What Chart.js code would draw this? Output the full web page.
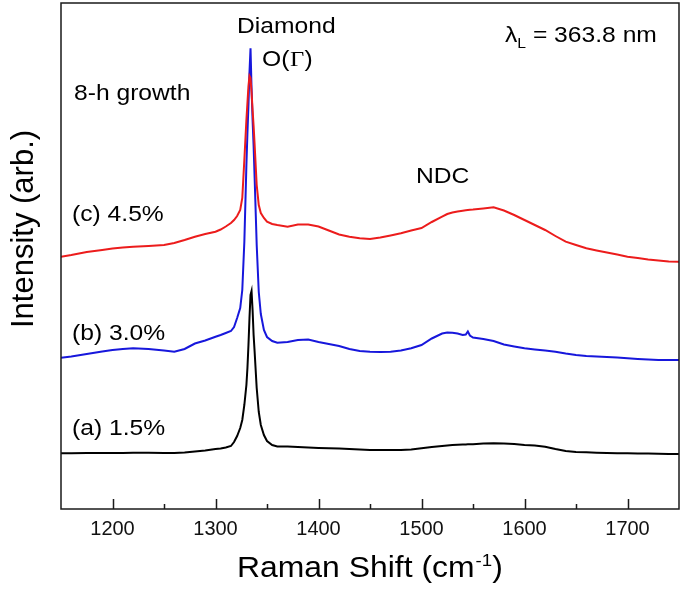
<!DOCTYPE html>
<html><head><meta charset="utf-8">
<script src="https://cdn.jsdelivr.net/npm/chart.js@4/dist/chart.umd.min.js"></script>
<style>html,body{margin:0;padding:0;background:#fff}#wrap{width:685px;height:590px}</style>
</head><body><div id="wrap"><canvas id="c" width="685" height="590"></canvas></div>
<script>
// Raman shift (cm^-1)
const ramanShift = [1150,1160,1175,1190,1200,1210,1220,1235,1250,1260,
  1270,1280,1290,1300,1305,1310,1315,1318,1321,1324,
  1326,1328,1330,1331,1332,1333,1334,1335,1336,1337,
  1338,1340,1342,1344,1347,1350,1355,1360,1370,1380,
  1390,1400,1410,1420,1430,1440,1450,1460,1470,1480,
  1490,1500,1510,1520,1525,1530,1535,1540,1543,1545,
  1547,1550,1560,1570,1580,1590,1600,1610,1620,1630,
  1640,1650,1660,1670,1680,1690,1700,1710,1720,1730,
  1740,1750];
// (a) 1.5%  (offset intensity, arb.)
const intensityA = [55.7,55.7,56,56,56,56,56.2,56.2,56,56,
  56.5,57.5,58.5,60,60.5,61.5,63,67,73,81,
  89,104,124,141,164,191,214,218,199,174,
  157,121,97,84,74,68,64,62.5,62.5,62,
  61.5,61,60.7,60.5,60,59.5,59,59,59,59,
  59.5,60.7,62,63,63.5,64,64.2,64.5,64.5,64.7,
  64.7,64.7,65.5,65.7,65.5,65,64,63.5,62.3,60,
  58,57,56.7,56.3,56,55.8,55.7,55.5,55.5,55.2,
  55,55];
// (b) 3.0%
const intensityB = [151.3,152.5,155,157.5,159,160,160.7,160,158.5,157.3,
  160,165.5,168.5,172.3,174,176,178,182,191,201,
  219,267,344,376,404,437,460.7,421,389,363,
  331,264,217,195,179,172,168,166.3,167,169,
  169.5,167,165,163,160,158,157.3,157,157.3,158.5,
  160.7,164,170.5,175.5,176.5,176.3,175.5,174,174.5,177.5,
  173.5,171.5,170,168,164.5,162.5,160.7,159.5,158.5,157.3,
  155.5,154,153,152.5,152,151.5,150.7,150,149.5,149,
  149,149];
// (c) 4.5%
const intensityC = [252.3,254,257,259,260.5,261.5,262.3,263,264,266,
  269,272.3,275,277.3,279.5,282.5,286,289,293,299,
  311,349,389,406,423,433,431,417,399,383,
  364,324,304,296,291,287.3,285,284,282.3,284.5,
  284.5,282.5,278.5,274.5,272.3,270.7,270,271.5,273.5,275.7,
  278.5,281,287,292.3,295,296.5,297.5,298.3,298.7,299,
  299.3,299.5,300.5,301.7,298.5,294,289,284,279,273,
  267.3,264,260.7,258.5,256.5,254.5,252.3,251,249.5,248.5,
  247.5,247.3];

const seriesLabels = ['(a) 1.5%', '(b) 3.0%', '(c) 4.5%'];
const xTickValues = [1200, 1300, 1400, 1500, 1600, 1700];
const xMinorTickValues = [1250, 1350, 1450, 1550, 1650];
const xRange = [1150, 1750];
const yRange = [0, 506];

const FONT = '"Liberation Sans", Arial, sans-serif';

function toPoints(arr) { return ramanShift.map((x, i) => ({ x: x, y: arr[i] })); }

function stretchText(ctx, txt, x, y, size, sx) {
  ctx.save();
  ctx.translate(x, y);
  ctx.scale(sx, 1);
  ctx.font = size + 'px ' + FONT;
  ctx.fillText(txt, 0, 0);
  const w = ctx.measureText(txt).width * sx;
  ctx.restore();
  return w;
}

const decor = {
  id: 'decor',
  afterDraw(chart) {
    const ctx = chart.ctx;
    const a = chart.chartArea;
    const xs = chart.scales.x;
    ctx.save();
    // frame
    ctx.strokeStyle = '#1a1a1a';
    ctx.lineWidth = 1.5;
    ctx.strokeRect(a.left, a.top, a.right - a.left, a.bottom - a.top);
    // inward ticks
    ctx.beginPath();
    xTickValues.forEach(v => { const p = Math.round(xs.getPixelForValue(v)) + 0.5; ctx.moveTo(p, a.bottom); ctx.lineTo(p, a.bottom - 10); });
    xMinorTickValues.forEach(v => { const p = Math.round(xs.getPixelForValue(v)) + 0.5; ctx.moveTo(p, a.bottom); ctx.lineTo(p, a.bottom - 5); });
    ctx.stroke();

    ctx.fillStyle = '#000';
    ctx.textBaseline = 'alphabetic';
    ctx.textAlign = 'left';
    const S = 1.12;
    // annotations
    stretchText(ctx, 'Diamond', 237, 33, 22, S);
    let x = 262;
    x += stretchText(ctx, 'O(', x, 66, 22, S);
    ctx.save(); ctx.font = '22px "Liberation Serif", "Times New Roman", serif';
    ctx.translate(x, 66); ctx.scale(S, 1); ctx.fillText('\u0393', 0.5, 0);
    const gw = ctx.measureText('\u0393').width * S; ctx.restore();
    x += gw + 1;
    stretchText(ctx, ')', x, 66, 22, S);
    stretchText(ctx, '8-h growth', 74, 100, 22, S);
    stretchText(ctx, seriesLabels[2], 72, 221, 22, S);
    stretchText(ctx, seriesLabels[1], 72, 340, 22, S);
    stretchText(ctx, seriesLabels[0], 72, 435, 22, S);
    stretchText(ctx, 'NDC', 416, 183, 22, S);
    // lambda label
    let lx = 505;
    lx += stretchText(ctx, '\u03bb', lx, 42, 22, S);
    lx += stretchText(ctx, 'L', lx, 48, 14, S);
    stretchText(ctx, ' = 363.8 nm', lx, 42, 22, S);

    // x title
    let tx = 237;
    tx += stretchText(ctx, 'Raman Shift (cm', tx, 577, 29, 1.1);
    tx += stretchText(ctx, '-1', tx + 1, 566, 17, 1.1) + 1;
    stretchText(ctx, ')', tx, 577, 29, 1.1);

    // y title
    ctx.save();
    ctx.translate(33, 229);
    ctx.rotate(-Math.PI / 2);
    ctx.textAlign = 'center';
    ctx.font = '31px ' + FONT;
    ctx.fillText('Intensity (arb.)', 0, 0);
    ctx.restore();
    ctx.restore();
  }
};

new Chart(document.getElementById('c'), {
  type: 'line',
  data: {
    datasets: [
      { label: seriesLabels[2], data: toPoints(intensityC), borderColor: '#ec1c1c', borderWidth: 2, pointRadius: 0, tension: 0, order: 0 },
      { label: seriesLabels[1], data: toPoints(intensityB), borderColor: '#1717dc', borderWidth: 2, pointRadius: 0, tension: 0, order: 1 },
      { label: seriesLabels[0], data: toPoints(intensityA), borderColor: '#000000', borderWidth: 2, pointRadius: 0, tension: 0, order: 2 }
    ]
  },
  options: {
    responsive: false,
    animation: false,
    devicePixelRatio: 1,
    layout: { padding: { top: 3, right: 6, left: 0, bottom: 0 } },
    plugins: { legend: { display: false }, tooltip: { enabled: false } },
    scales: {
      x: {
        type: 'linear', min: xRange[0], max: xRange[1],
        afterBuildTicks: s => { s.ticks = xTickValues.map(v => ({ value: v })); },
        afterFit: s => { s.height = 81; },
        grid: { display: false, drawTicks: false },
        border: { display: false },
        ticks: { font: { size: 20, family: FONT }, color: '#111', padding: 8, maxRotation: 0, autoSkip: false,
                 callback: v => String(v) }
      },
      y: {
        min: yRange[0], max: yRange[1],
        afterFit: s => { s.width = 61; },
        grid: { display: false, drawTicks: false },
        border: { display: false },
        ticks: { display: false }
      }
    }
  },
  plugins: [decor]
});
</script>
</body></html>
